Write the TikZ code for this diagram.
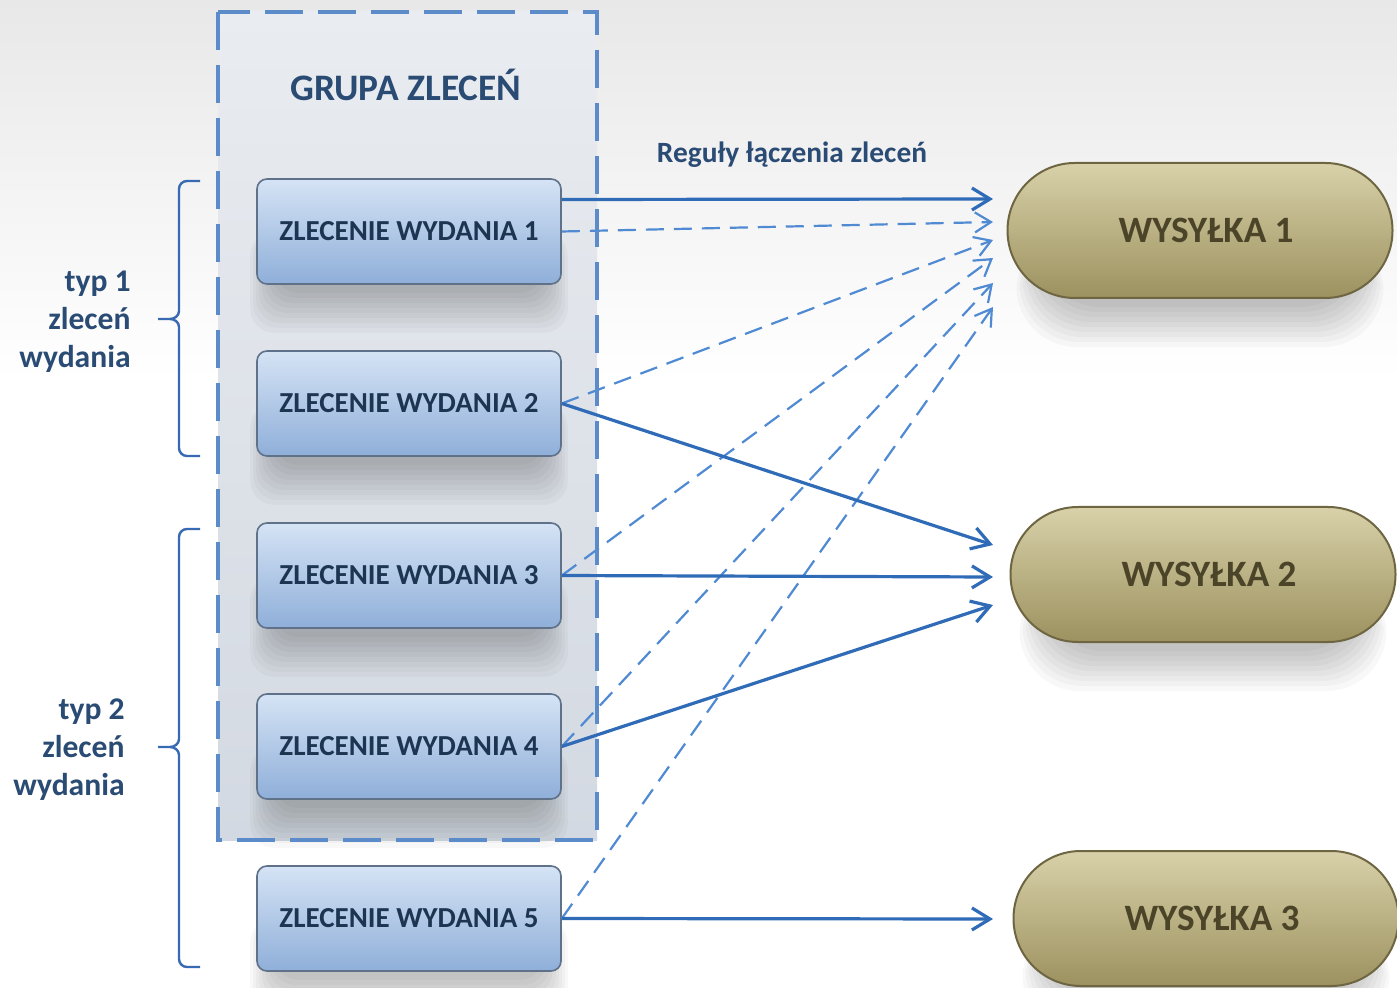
\documentclass[tikz,border=0pt]{standalone}
\usepackage{fontspec}
\setmainfont{Carlito}
\usetikzlibrary{arrows.meta,calc}
\pgfdeclarelayer{back}
\pgfdeclarelayer{shad}
\pgfsetlayers{back,shad,main}
\definecolor{bgtop}{HTML}{E8E8E8}
\definecolor{grpborder}{HTML}{5B8BC9}
\definecolor{grptop}{HTML}{E9ECF0}
\definecolor{grpbot}{HTML}{D3D9E2}
\definecolor{arrdark}{HTML}{2F6BB7}
\definecolor{arrlight}{HTML}{4F8AD3}
\definecolor{bracecol}{HTML}{3869B3}
\definecolor{labeltext}{HTML}{2A4B74}
\definecolor{boxtext}{HTML}{1E3552}
\definecolor{boxborder}{HTML}{5F728A}
\definecolor{boxtop}{HTML}{D5E3F5}
\definecolor{boxbot}{HTML}{8FAFD9}
\definecolor{pilltop}{HTML}{D8D1A9}
\definecolor{pillbot}{HTML}{9C915F}
\definecolor{pillborder}{HTML}{6E6642}
\definecolor{pilltext}{HTML}{4B4428}
\begin{document}
\begin{tikzpicture}[x=0.5pt,y=-0.5pt,
  zbox/.style={rounded corners=5pt, minimum width=152pt, minimum height=52.5pt,
    draw=boxborder, line width=0.8pt, top color=boxtop, bottom color=boxbot,
    font=\bfseries\fontsize{14.5}{16}\selectfont, text=boxtext},
  pill/.style={rounded corners=33.7pt, minimum width=192.5pt, minimum height=67.5pt,
    draw=pillborder, line width=1pt, top color=pilltop, bottom color=pillbot,
    font=\bfseries\fontsize{18.6}{20}\selectfont, text=pilltext},
  lbl/.style={font=\bfseries\fontsize{15.8}{19}\selectfont, text=labeltext, align=right, anchor=east, inner sep=0pt},
  solidarr/.style={draw=arrdark, line width=1.6pt, -{Straight Barb[length=9pt,width=11pt]}},
  dasharr/.style={draw=arrlight, line width=1.1pt, dash pattern=on 9pt off 5pt, -{Straight Barb[length=8pt,width=10pt]}},
  bracestyle/.style={draw=bracecol, line width=1.2pt},
  grpline/.style={draw=grpborder, line width=2pt, dash pattern=on 19pt off 7.5pt},
  shadowfill/.style={fill=black, opacity=0.028}
]
\useasboundingbox (0,0) rectangle (1397,988);
\clip (0,0) rectangle (1397,988);
% order boxes
\node[zbox] (z1) at (409,231.5) {ZLECENIE WYDANIA 1};
\node[zbox] (z2) at (409,403.5) {ZLECENIE WYDANIA 2};
\node[zbox] (z3) at (409,575.5) {ZLECENIE WYDANIA 3};
\node[zbox] (z4) at (409,746.5) {ZLECENIE WYDANIA 4};
\node[zbox] (z5) at (409,918.5) {ZLECENIE WYDANIA 5};
% shipments
\node[pill] (w1) at (1200,230.5) {\hspace*{6pt}WYSYŁKA 1};
\node[pill] (w2) at (1203,574.5) {\hspace*{6pt}WYSYŁKA 2};
\node[pill] (w3) at (1206,918.5) {\hspace*{6pt}WYSYŁKA 3};
\begin{pgfonlayer}{back}
  \shade[top color=bgtop, bottom color=white] (0,0) rectangle (1397,380);
  \fill[white] (0,380) rectangle (1397,988);
  \node[minimum width=189.5pt, minimum height=414pt, inner sep=0pt, top color=grptop, bottom color=grpbot] (grp) at (407.5,426) {};
\end{pgfonlayer}
\begin{pgfonlayer}{shad}
  \foreach \n in {z1,z2,z3,z4,z5}{
    \foreach \k in {0,...,8}{
      \fill[shadowfill, rounded corners=12pt]
        ($(\n.west)+(-6+3*\k,0)$) rectangle ($(\n.south east)+(6-3*\k,48-5*\k)$);
    }
  }
  \foreach \n in {w1,w2,w3}{
    \foreach \k in {0,...,8}{
      \fill[shadowfill, rounded corners=30pt]
        ($(\n.west)+(10+3*\k,0)$) rectangle ($(\n.south east)+(-10-3*\k,48-5*\k)$);
    }
  }
\end{pgfonlayer}
\node[font=\bfseries\fontsize{18.7}{20}\selectfont, text=labeltext] (ttl) at (406,85) {GRUPA ZLECEŃ};
% label
\node[font=\bfseries\fontsize{14.7}{16}\selectfont, text=labeltext] (rl) at (792,155) {Reguły łączenia zleceń};
% arrow targets
\coordinate (a1) at (993,199);
\coordinate (a2) at (993,222);
\coordinate (a3) at (993,240);
\coordinate (a4) at (993,258);
\coordinate (a5) at (993,283);
\coordinate (a6) at (993,307);
\coordinate (b1) at (993,545);
\coordinate (b2) at (993,577);
\coordinate (b3) at (993,605);
\coordinate (c1) at (993,919);
% dashed arrows
\draw[dasharr] (z1.east) -- (a2);
\draw[dasharr] (z2.east) -- (a3);
\draw[dasharr] (z3.east) -- (a4);
\draw[dasharr] (z4.east) -- (a5);
\draw[dasharr] (z5.east) -- (a6);
% solid arrows
\draw[solidarr] ([yshift=16pt]z1.east) -- (a1);
\draw[solidarr] (z2.east) -- (b1);
\draw[solidarr] (z3.east) -- (b2);
\draw[solidarr] (z4.east) -- (b3);
\draw[solidarr] (z5.east) -- (c1);
% group border
\draw[grpline] (grp.north west) rectangle (grp.south east);
% braces
\draw[bracestyle] (200,181) -- (187,181) to[out=180,in=90] (179,189) -- (179,311) to[out=270,in=0] (170,319) -- (158,319)
  (170,319) to[out=0,in=90] (179,327) -- (179,448) to[out=270,in=180] (187,456) -- (200,456);
\draw[bracestyle] (200,529) -- (187,529) to[out=180,in=90] (179,537) -- (179,739) to[out=270,in=0] (170,747) -- (158,747)
  (170,747) to[out=0,in=90] (179,755) -- (179,959) to[out=270,in=180] (187,967) -- (200,967);
\node[lbl] (t1) at (131,322) {typ 1\\zleceń\\wydania};
\node[lbl] (t2) at (125,750) {typ 2\\zleceń\\wydania};
\end{tikzpicture}
\end{document}
